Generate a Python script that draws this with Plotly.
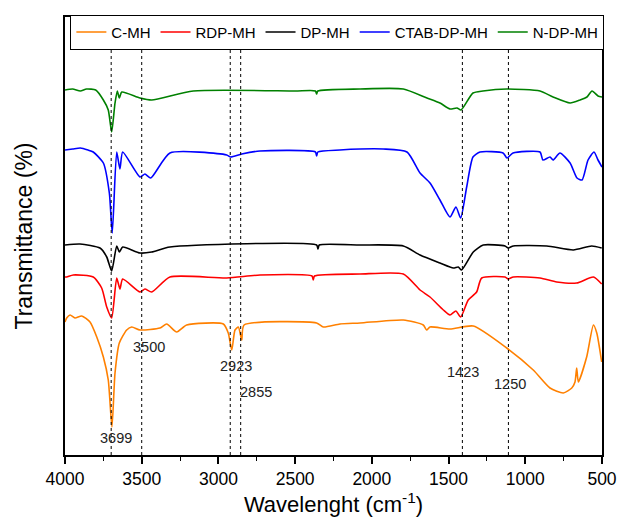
import plotly.graph_objects as go

# ---- data (wavenumber cm^-1, transmittance a.u.) ----
cmh_x = [4000, 3989, 3967, 3935, 3891, 3837, 3793, 3750, 3718, 3694, 3674, 3646, 3598, 3565, 3511,
         3381, 3337, 3272, 3207, 2968, 2936, 2913, 2892, 2870, 2848, 2833, 2360, 2316, 2208, 2077,
         1795, 1665, 1643, 1621, 1491, 1339, 1121, 948, 839, 752, 697, 676, 665, 654, 600, 556, 534, 502]
cmh_y = [133, 137, 140, 137, 139, 133, 118, 98, 75, 28, 82, 112, 125, 128, 125,
         127, 131, 123, 130, 131, 122, 105, 125, 128, 115, 130, 132, 128, 131, 132,
         135, 130, 125, 128, 126, 129, 107, 85, 67, 62, 67, 73, 87, 73, 98, 130, 122, 93]

rdp_x = [4000, 3989, 3946, 3816, 3761, 3728, 3696, 3663, 3642, 3624, 3511, 3479, 3435, 3316, 2946,
         2729, 2390, 2382, 2374, 2077, 1795, 1686, 1621, 1534, 1491, 1452, 1421, 1372, 1317, 1284,
         1132, 1111, 1078, 904, 795, 665, 556, 502]
rdp_y = [178, 178, 180, 178, 167, 148, 137, 177, 166, 176, 163, 166, 163, 178, 177,
         180, 179, 175, 179, 181, 181, 165, 158, 145, 140, 144, 138, 155, 163, 177,
         178, 176, 178, 177, 173, 172, 178, 171]

dp_x = [4000, 3902, 3772, 3728, 3696, 3663, 3646, 3624, 3511, 3435, 3316, 2360, 2351, 2343, 2077,
        1795, 1686, 1556, 1469, 1437, 1415, 1339, 1274, 1132, 1111, 1078, 860, 687, 567, 502]
dp_y = [210, 211, 207, 198, 184, 209, 203, 208, 202, 203, 208, 210, 206, 210, 210,
        209, 200, 192, 187, 188, 185, 203, 210, 209, 207, 209, 209, 205, 209, 207]

ctab_x = [4000, 3950, 3900, 3850, 3816, 3750, 3711, 3692, 3663, 3642, 3624, 3511, 3479, 3441, 3316,
          2946, 2920, 2848, 2729, 2368, 2360, 2352, 2208, 2077, 1927, 1771, 1686, 1621, 1556, 1491,
          1452, 1421, 1382, 1341, 1295, 1145, 1119, 1080, 904, 885, 839, 819, 774, 708, 663, 630,
          591, 552, 526, 500]
ctab_y = [305, 306, 307, 305, 303, 292, 262, 222, 303, 286, 303, 278, 281, 277, 302,
          300, 298, 301, 304, 303, 299, 303, 305, 306, 306, 303, 282, 272, 255, 238,
          248, 237, 268, 298, 303, 302, 297, 302, 303, 295, 298, 295, 302, 292, 277, 275,
          295, 303, 295, 288]

ndp_x = [4000, 3950, 3900, 3860, 3800, 3750, 3718, 3696, 3674, 3659, 3646, 3630, 3511, 3435, 3164,
         2500, 2368, 2360, 2352, 2077, 1795, 1641, 1556, 1491, 1445, 1419, 1341, 1276, 1121, 904,
         819, 708, 643, 598, 565, 526, 500]
ndp_y = [365, 366, 364, 366, 365, 355, 345, 323, 352, 364, 357, 363, 357, 355, 364,
         364, 364, 361, 364, 366, 366, 357, 352, 346, 347, 345, 362, 364, 366, 364,
         358, 352, 355, 358, 364, 359, 358]

series_names = ["C-MH", "RDP-MH", "DP-MH", "CTAB-DP-MH", "N-DP-MH"]
series_colors = ["#FF8000", "#FF0000", "#000000", "#0000FF", "#008000"]

# reference lines (as drawn) and their labels
ref_line_x = [3699, 3500, 2923, 2855, 1410, 1110]
label_text = ["3699", "3500", "2923", "2855", "1423", "1250"]
label_x = [3668, 3453, 2885, 2755, 1406, 1100]
label_y = [17, 108, 89, 63, 83, 71]

x_ticks = [4000, 3500, 3000, 2500, 2000, 1500, 1000, 500]

fig = go.Figure()
for xs, ys, name, color in zip([cmh_x, rdp_x, dp_x, ctab_x, ndp_x],
                               [cmh_y, rdp_y, dp_y, ctab_y, ndp_y],
                               series_names, series_colors):
    fig.add_trace(go.Scatter(x=xs, y=ys, mode="lines", name=name,
                             line=dict(color=color, width=1.6, shape="spline", smoothing=0.6)))

for xv in ref_line_x:
    fig.add_vline(x=xv, line=dict(color="black", width=1, dash="3px,3px"))

for t, xv, yv in zip(label_text, label_x, label_y):
    fig.add_annotation(x=xv, y=yv, text=t, showarrow=False,
                       font=dict(size=14.5, color="#222", family="Liberation Sans, Arial"))

fig.update_layout(
    width=617, height=518,
    margin=dict(l=65, r=15, t=17, b=63, autoexpand=False),
    paper_bgcolor="white", plot_bgcolor="white",
    font=dict(family="Liberation Sans, Arial", color="black"),
    showlegend=True,
    legend=dict(orientation="h", x=0.01, y=1.005, xanchor="left", yanchor="top",
                bordercolor="black", borderwidth=1, bgcolor="white",
                font=dict(size=15), itemwidth=30, tracegroupgap=0),
    xaxis=dict(range=[4000, 500], tickvals=x_ticks, ticks="outside", ticklen=7, tickwidth=1.5,
               tickcolor="black", showline=True, linecolor="black", linewidth=1.5, mirror=True,
               showgrid=False, zeroline=False, tickfont=dict(size=17.5), automargin=False,
               minor=dict(dtick=250, ticks="outside", ticklen=4, tickwidth=1, tickcolor="black"),
               title=dict(text="Wavelenght (cm<sup>-1</sup>)", font=dict(size=22), standoff=8)),
    yaxis=dict(range=[0, 438], showticklabels=False, ticks="", showline=True, linecolor="black",
               linewidth=1.5, mirror=True, showgrid=False, zeroline=False, automargin=False,
               title=dict(text="Transmittance (%)", font=dict(size=23), standoff=24)),
)

fig.write_html("out.html")
